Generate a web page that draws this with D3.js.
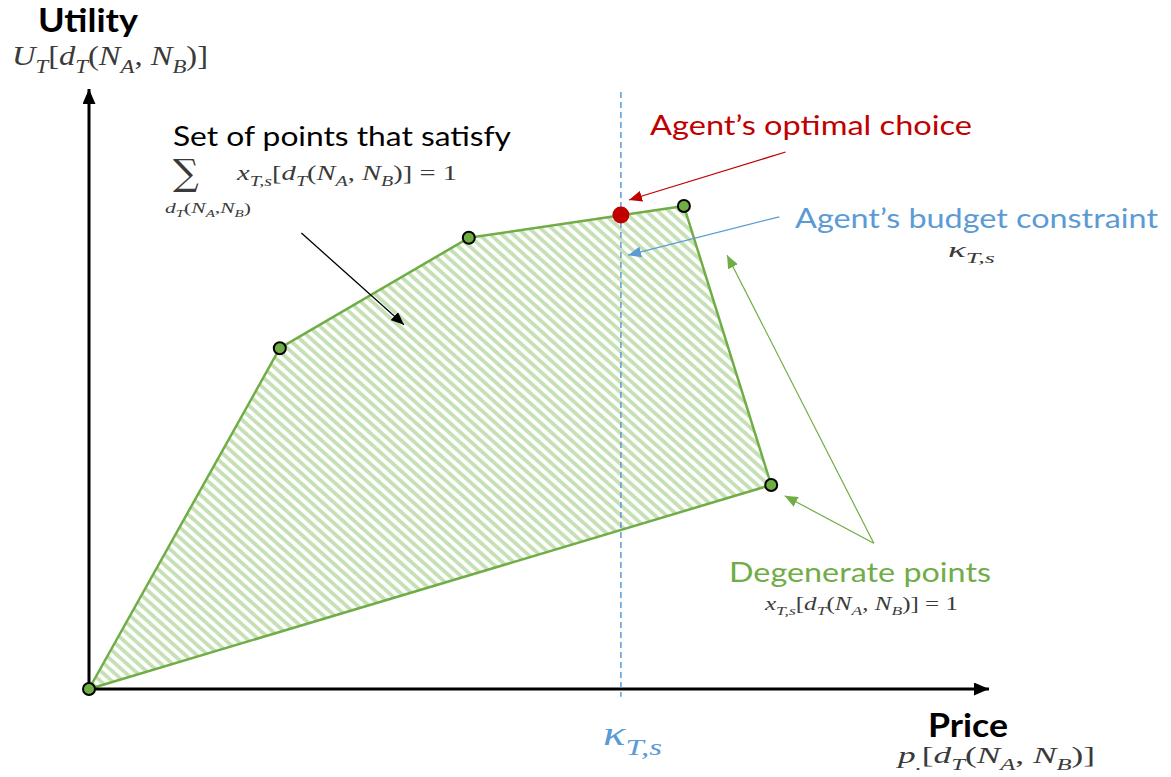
<!DOCTYPE html>
<html>
<head>
<meta charset="utf-8">
<script src="https://cdn.jsdelivr.net/npm/d3@7"></script>
<style>
  body { margin: 0; background: #fff; }
  svg { display: block; }
</style>
</head>
<body>
<div id="chart"></div>
<script>
// Corners of the feasible set (price, utility), in chart units
const cornerPrice   = [0, 21.2, 42.2, 66.1, 75.8];
const cornerUtility = [0, 56.8, 75.2, 80.5, 34.0];

// Budget constraint and the optimal choice on it
const budgetPrice = 59.1;
const optimalUtility = 79.0;

// Annotation arrows: [fromPrice, fromUtility, toPrice, toUtility]
const setArrow      = [23.6, 76.0, 35.0, 60.7];
const optimalArrow  = [77.4, 89.5, 60.0, 81.5];
const budgetArrow   = [76.7, 78.7, 59.9, 72.3];
const degenArrows   = [[87.2, 24.3, 70.9, 72.3], [87.2, 24.3, 77.3, 32.2]];

const green = "#70ad47", red = "#c00000", blue = "#5b9bd5";

const width = 1171, height = 777;

const svg = d3.select("#chart")
  .append("svg")
  .attr("width", width)
  .attr("height", height);

const x = d3.scaleLinear().domain([0, 100]).range([89, 989]);
const y = d3.scaleLinear().domain([0, 100]).range([689, 89]);

const defs = svg.append("defs");

// diagonal hatch for the feasible set
defs.append("pattern")
    .attr("id", "hatch")
    .attr("patternUnits", "userSpaceOnUse")
    .attr("width", 7.6)
    .attr("height", 7.6)
    .attr("patternTransform", "rotate(-48)")
  .append("line")
    .attr("x1", 2).attr("y1", 0)
    .attr("x2", 2).attr("y2", 7.6)
    .attr("stroke", "#c5e0b4")
    .attr("stroke-width", 3.8);

// arrow heads
function marker(id, color, w, h) {
  defs.append("marker")
      .attr("id", id)
      .attr("viewBox", `0 0 ${w} ${h}`)
      .attr("refX", w)
      .attr("refY", h / 2)
      .attr("markerWidth", w)
      .attr("markerHeight", h)
      .attr("markerUnits", "userSpaceOnUse")
      .attr("orient", "auto")
    .append("path")
      .attr("d", `M0,0L${w},${h / 2}L0,${h}Z`)
      .attr("fill", color);
}
marker("axisHead", "#000", 15, 13);
marker("blackHead", "#000", 13, 11);
marker("redHead", red, 13, 11);
marker("blueHead", blue, 13, 11);
marker("greenHead", green, 13, 11);

const corners = cornerPrice.map((p, i) => [p, cornerUtility[i]]);

// feasible set
svg.append("path")
    .datum(corners)
    .attr("d", d3.line().x(d => x(d[0])).y(d => y(d[1])).curve(d3.curveLinearClosed))
    .attr("fill", "url(#hatch)")
    .attr("stroke", green)
    .attr("stroke-width", 2.5)
    .attr("stroke-linejoin", "round");

// axes
svg.append("line")
    .attr("x1", x(0)).attr("y1", y(0))
    .attr("x2", x(0)).attr("y2", y(100))
    .attr("stroke", "#000").attr("stroke-width", 3)
    .attr("marker-end", "url(#axisHead)");
svg.append("line")
    .attr("x1", x(0)).attr("y1", y(0))
    .attr("x2", x(100)).attr("y2", y(0))
    .attr("stroke", "#000").attr("stroke-width", 3)
    .attr("marker-end", "url(#axisHead)");

// budget constraint
svg.append("line")
    .attr("x1", x(budgetPrice)).attr("y1", y(99.5))
    .attr("x2", x(budgetPrice)).attr("y2", y(-1.3))
    .attr("stroke", blue)
    .attr("stroke-width", 1.5)
    .attr("stroke-dasharray", "6,4");

// annotation arrows
function arrow(a, color, head, w) {
  svg.append("line")
      .attr("x1", x(a[0])).attr("y1", y(a[1]))
      .attr("x2", x(a[2])).attr("y2", y(a[3]))
      .attr("stroke", color)
      .attr("stroke-width", w)
      .attr("marker-end", `url(#${head})`);
}
arrow(setArrow, "#000", "blackHead", 1.3);
arrow(optimalArrow, red, "redHead", 1.3);
arrow(budgetArrow, blue, "blueHead", 1.2);
degenArrows.forEach(a => arrow(a, green, "greenHead", 1.2));

// corner points
svg.selectAll(".corner")
  .data(corners)
  .join("circle")
    .attr("class", "corner")
    .attr("cx", d => x(d[0]))
    .attr("cy", d => y(d[1]))
    .attr("r", 6)
    .attr("fill", green)
    .attr("stroke", "#000")
    .attr("stroke-width", 2);

svg.append("circle")
    .attr("cx", x(budgetPrice))
    .attr("cy", y(optimalUtility))
    .attr("r", 8.5)
    .attr("fill", red);

// plain labels
function label(txt, px, py, size, color, weight, len) {
  const t = svg.append("text")
      .attr("x", px).attr("y", py)
      .style("font-family", "Lato, 'Open Sans', sans-serif")
      .style("font-size", size + "px")
      .style("font-weight", weight)
      .attr("fill", color)
      .text(txt);
  if (len) t.attr("textLength", len).attr("lengthAdjust", "spacingAndGlyphs");
  return t;
}

// small latex-like formulas: letters italic, "_x" or "_{..}" subscripts
function tex(s, px, py, size, color, len, family) {
  const t = svg.append("text")
      .attr("x", px).attr("y", py)
      .style("font-family", family || "'Liberation Serif', 'DejaVu Serif', serif")
      .style("font-size", size + "px")
      .attr("fill", color);
  const parts = [];
  let i = 0;
  while (i < s.length) {
    if (s[i] === "_") {
      let sub;
      if (s[i + 1] === "{") {
        const end = s.indexOf("}", i);
        sub = s.slice(i + 2, end);
        i = end + 1;
      } else {
        sub = s[i + 1];
        i += 2;
      }
      parts.push({text: sub, sub: true, italic: true});
    } else {
      const c = s[i];
      const italic = /[A-Za-z\u03ba]/.test(c);
      const last = parts[parts.length - 1];
      if (last && !last.sub && last.italic === italic) last.text += c;
      else parts.push({text: c, sub: false, italic: italic});
      i++;
    }
  }
  let shift = 0;
  parts.forEach(p => {
    const target = p.sub ? size * 0.28 : 0;
    t.append("tspan")
        .attr("dy", target - shift)
        .style("font-style", p.italic ? "italic" : "normal")
        .style("font-size", p.sub ? (size * 0.7) + "px" : null)
        .text(p.text);
    shift = target;
  });
  if (len) t.attr("textLength", len).attr("lengthAdjust", "spacingAndGlyphs");
  return t;
}

const mathGrey = "#3a3a3a";

label("Utility", 38, 32, 33, "#000", 700, 100);
tex("U_T[d_T(N_A, N_B)]", 12, 65, 27, mathGrey, 196);

label("Set of points that satisfy", 173, 146, 26, "#000", 400, 338);
svg.append("text")
    .attr("x", 173).attr("y", 185)
    .style("font-family", "'DejaVu Serif', serif")
    .style("font-size", "36px")
    .attr("fill", mathGrey)
    .text("\u2211");
tex("x_{T,s}[d_T(N_A, N_B)] = 1", 237, 180, 20, mathGrey, 220);
tex("d_T(N_A,N_B)", 165, 213, 15, mathGrey, 86);

label("Agent\u2019s optimal choice", 650, 135, 27, red, 400, 322);
label("Agent\u2019s budget constraint", 795, 228, 27, blue, 400, 363);
tex("\u03ba_{T,s}", 948, 257, 20, mathGrey, 47);

label("Degenerate points", 729, 582, 27, green, 400, 262);
tex("x_{T,s}[d_T(N_A, N_B)] = 1", 765, 610, 18, mathGrey, 193);

label("Price", 928, 737, 33, "#000", 700, 80);
tex("p_{.}[d_T(N_A, N_B)]", 898, 763, 24, mathGrey, 197);

tex("\u03ba_{T,s}", 603, 745, 34, blue, 59);
</script>
</body>
</html>
